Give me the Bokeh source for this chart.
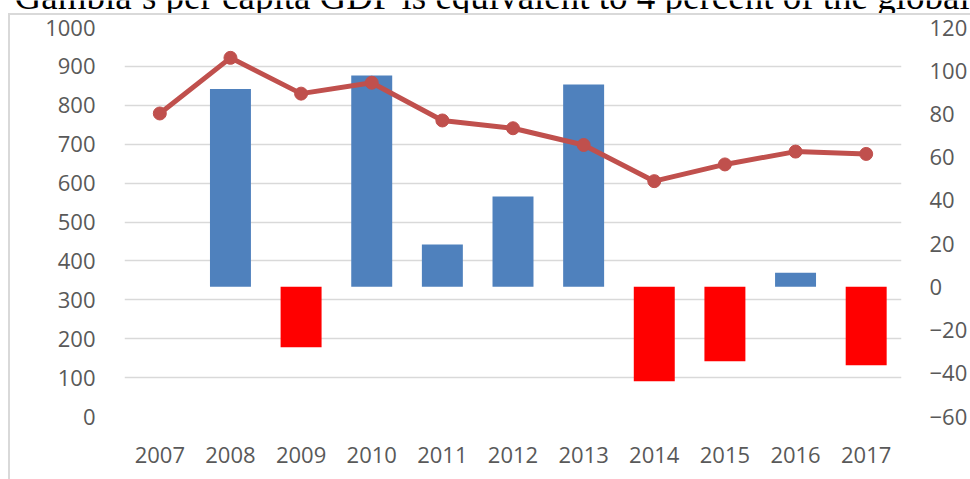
from bokeh.plotting import figure
from bokeh.models import Range1d, LinearAxis, FixedTicker, ColumnDataSource, Label
from bokeh.embed import file_html
from bokeh.resources import INLINE

# ---- data ----
TITLE = "Gambia\u2019s per capita GDP is equivalent to 4 percent of the global"
years = [2007, 2008, 2009, 2010, 2011, 2012, 2013, 2014, 2015, 2016, 2017]
gdp_per_capita = [779, 922, 830, 858, 761, 741, 698, 605, 648, 681, 675]
growth = [0, 91.6, -28.0, 97.8, 19.6, 41.8, 93.6, -43.7, -34.4, 6.5, -36.3]
left_ticks = [0, 100, 200, 300, 400, 500, 600, 700, 800, 900, 1000]
right_ticks = [-60, -40, -20, 0, 20, 40, 60, 80, 100, 120]

LABEL_FONT = "Open Sans"
LABEL_COLOR = "#595959"
GRID_COLOR = "#D9D9D9"

# ---- geometry (pixels) ----
W = 970
TOP_H = 13          # strip holding the clipped caption line
MAIN_H = 466
FL, FR = 124, 905   # frame left/right
FT, FB = 14, 403    # frame top/bottom inside the main figure

# ---- caption strip: top of the caption text is cut off by the window edge ----
t = figure(width=W, height=TOP_H, x_range=Range1d(0, W), y_range=Range1d(0, TOP_H),
           output_backend="svg", toolbar_location=None, min_border=0,
           x_axis_type=None, y_axis_type=None, outline_line_color=None)
t.add_layout(Label(x=14, y=TOP_H + 4, text=TITLE, text_font="Liberation Serif",
                   text_font_size="37px", text_color="black", text_baseline="alphabetic",
                   text_align="left"))

# ---- main chart ----
border_css = {
    "background-image": "linear-gradient(#D9D9D9, #D9D9D9), linear-gradient(#D9D9D9, #D9D9D9)",
    "background-repeat": "no-repeat",
    "background-size": "2px 470px, 966px 2px",
    "background-position": "8px 0px, 8px 0px",
}

p = figure(width=W, height=MAIN_H, x_range=Range1d(2006.5, 2017.5), y_range=Range1d(0, 1000),
           output_backend="svg", toolbar_location=None,
           min_border_left=FL, min_border_right=W - FR,
           min_border_top=FT, min_border_bottom=MAIN_H - FB,
           outline_line_color=None, border_fill_color=None, background_fill_color=None,
           styles=border_css)
p.extra_y_ranges = {"growth": Range1d(-60, 120)}

right_axis = LinearAxis(y_range_name="growth", ticker=FixedTicker(ticks=right_ticks))
p.add_layout(right_axis, "right")

p.xaxis.ticker = FixedTicker(ticks=years)
p.yaxis[0].ticker = FixedTicker(ticks=left_ticks)

for ax in p.axis:
    ax.axis_line_color = None
    ax.major_tick_line_color = None
    ax.minor_tick_line_color = None
    ax.major_label_text_font = LABEL_FONT
    ax.major_label_text_font_size = "22px"
    ax.major_label_text_color = LABEL_COLOR
    ax.major_label_standoff = 23
right_axis.major_label_standoff = 22
p.xaxis.major_label_standoff = 24

p.xgrid.visible = False
p.ygrid.ticker = FixedTicker(ticks=left_ticks)
p.ygrid.grid_line_color = GRID_COLOR
p.ygrid.grid_line_width = 1.5

colors = ["#4F81BD" if g >= 0 else "#FF0000" for g in growth]
src = ColumnDataSource(dict(year=years, growth=growth, color=colors))
p.vbar(x="year", top="growth", bottom=0, width=0.58, fill_color="color",
       line_color=None, y_range_name="growth", source=src)

p.line(years, gdp_per_capita, line_color="#C0504D", line_width=5, line_join="round")
p.scatter(years, gdp_per_capita, size=13, fill_color="#C0504D", line_color="#C0504D")

open("out.html", "w").write(file_html([t, p], INLINE))
